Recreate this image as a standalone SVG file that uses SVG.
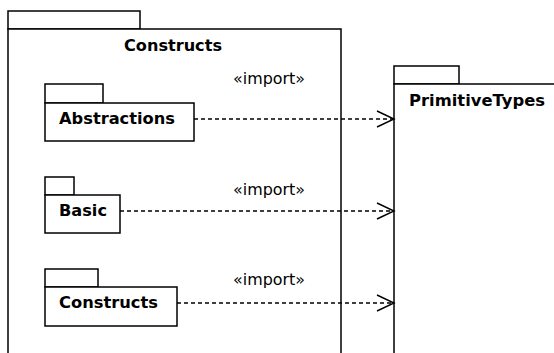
<svg xmlns="http://www.w3.org/2000/svg" width="554" height="353" viewBox="0 0 554 353">
<style>
.pk{fill:#fff;stroke:#000;stroke-width:1.5}
.t{font-family:"DejaVu Sans",Verdana,sans-serif;font-weight:bold;font-size:15px;fill:#000}
.s{font-family:"DejaVu Sans",Verdana,sans-serif;font-size:15px;fill:#000}
.d{stroke:#000;stroke-width:1.4;stroke-dasharray:4 3;fill:none}
.a{stroke:#000;stroke-width:1.4;fill:none}
</style>
<rect width="554" height="353" fill="#fff"/>
<g id="Constructs">
<rect class="pk" x="8" y="11" width="132" height="18"/>
<rect class="pk" x="8" y="29" width="333" height="340"/>
<text class="t" x="124" y="51" textLength="98" lengthAdjust="spacingAndGlyphs">Constructs</text>
</g>
<g id="PrimitiveTypes">
<rect class="pk" x="394" y="66" width="65" height="18"/>
<rect class="pk" x="394" y="84" width="180" height="290"/>
<text class="t" x="409" y="106" textLength="136" lengthAdjust="spacingAndGlyphs">PrimitiveTypes</text>
</g>
<g id="Abstractions">
<rect class="pk" x="45" y="84" width="58" height="19"/>
<rect class="pk" x="45" y="103" width="149" height="38"/>
<text class="t" x="59" y="124" textLength="116" lengthAdjust="spacingAndGlyphs">Abstractions</text>
</g>
<g id="Basic">
<rect class="pk" x="45" y="177" width="29" height="18"/>
<rect class="pk" x="45" y="195" width="75" height="38"/>
<text class="t" x="59" y="216" textLength="48" lengthAdjust="spacingAndGlyphs">Basic</text>
</g>
<g id="ConstructsInner">
<rect class="pk" x="45" y="269" width="53" height="18"/>
<rect class="pk" x="45" y="287" width="132" height="39"/>
<text class="t" x="59" y="308" textLength="99" lengthAdjust="spacingAndGlyphs">Constructs</text>
</g>
<g id="connectors">
<line class="d" x1="194" y1="119" x2="393" y2="119"/>
<polyline class="a" points="377,111 394,119 377,127"/>
<text class="s" x="233" y="84" textLength="72" lengthAdjust="spacingAndGlyphs">«import»</text>
<line class="d" x1="120" y1="211" x2="393" y2="211"/>
<polyline class="a" points="377,203 394,211 377,219"/>
<text class="s" x="233" y="195" textLength="72" lengthAdjust="spacingAndGlyphs">«import»</text>
<line class="d" x1="177" y1="303" x2="393" y2="303"/>
<polyline class="a" points="377,295 394,303 377,311"/>
<text class="s" x="233" y="285" textLength="72" lengthAdjust="spacingAndGlyphs">«import»</text>
</g>
</svg>
